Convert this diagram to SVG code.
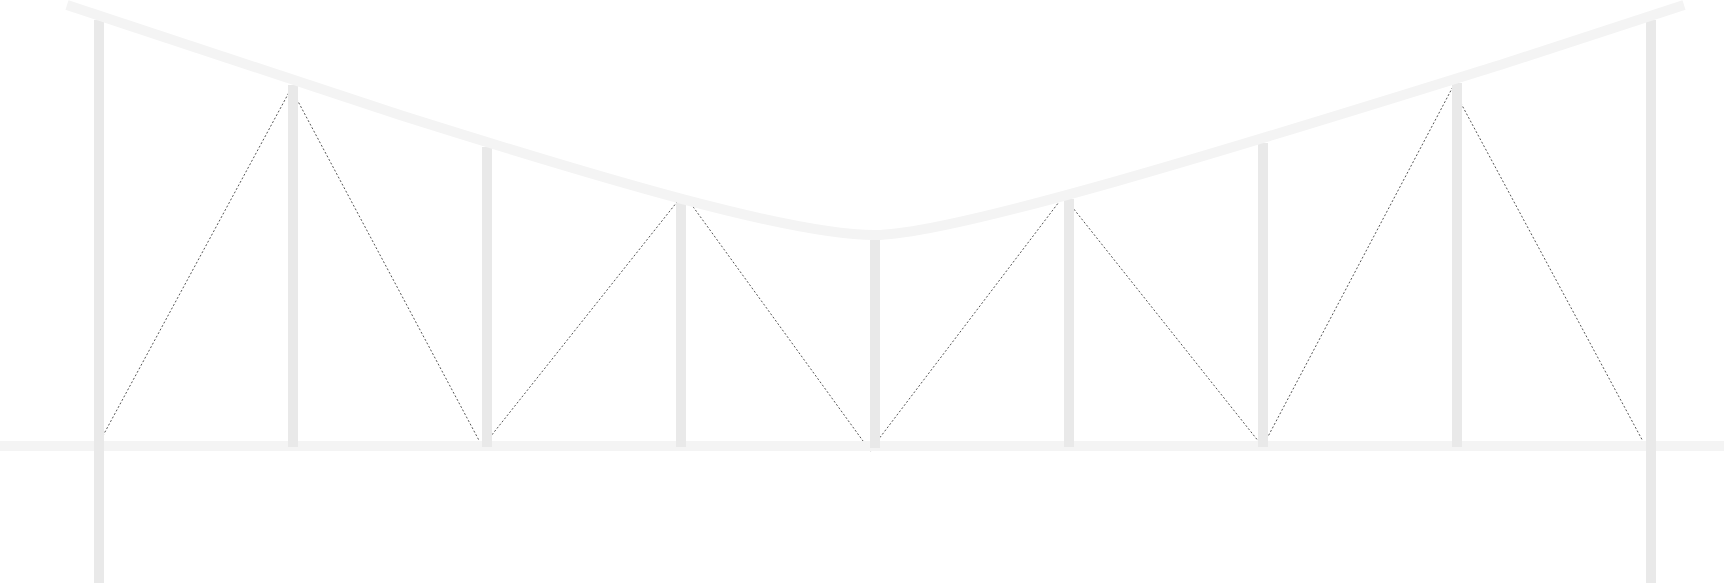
<svg xmlns="http://www.w3.org/2000/svg" width="1724" height="583" viewBox="0 0 1724 583">
<style>
.brace{fill:none;stroke:#555;stroke-width:1;stroke-dasharray:2 2}
.post{fill:#e9e9e9}
.cable{fill:none;stroke:#f4f4f4;stroke-width:10}
.deck{fill:#f4f4f4}
</style>
<rect width="1724" height="583" fill="#fff"/>
<g id="connectors">
<path class="brace" d="M99 443L293 85"/>
<path class="brace" d="M293 92L482 446"/>
<path class="brace" d="M487 441L681 197"/>
<path class="brace" d="M686 197L871 452"/>
<path class="brace" d="M875 444L1062 198"/>
<path class="brace" d="M1069 203L1263 447"/>
<path class="brace" d="M1263 446L1457 79"/>
<path class="brace" d="M1457 96L1646 447"/>
</g>
<g id="deck"><rect class="deck" x="0" y="441" width="1724" height="10"/></g>
<g id="post-1"><rect class="post" x="94" y="20" width="10" height="563"/></g>
<g id="post-2"><rect class="post" x="288" y="85" width="10" height="362"/></g>
<g id="post-3"><rect class="post" x="482" y="147" width="10" height="300"/></g>
<g id="post-4"><rect class="post" x="676" y="203" width="10" height="244"/></g>
<g id="post-5"><rect class="post" x="870" y="240" width="10" height="208"/></g>
<g id="post-6"><rect class="post" x="1064" y="199" width="10" height="248"/></g>
<g id="post-7"><rect class="post" x="1258" y="143" width="10" height="304"/></g>
<g id="post-8"><rect class="post" x="1452" y="83" width="10" height="364"/></g>
<g id="post-9"><rect class="post" x="1646" y="20" width="10" height="563"/></g>
<g id="cable"><path class="cable" d="M67 5L400 115C600 178 790 235 875 235C960 235 1300 127 1500 65L1684 5"/></g>
</svg>
